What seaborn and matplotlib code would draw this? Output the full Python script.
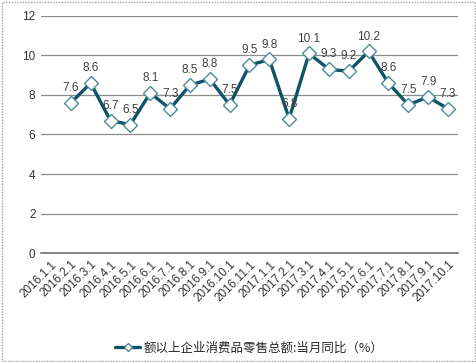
import numpy as np
import pandas as pd
import matplotlib
matplotlib.use("Agg")
import matplotlib.pyplot as plt
import seaborn as sns
from matplotlib.patches import Rectangle

months = ["2016.1.1", "2016.2.1", "2016.3.1", "2016.4.1", "2016.5.1", "2016.6.1",
          "2016.7.1", "2016.8.1", "2016.9.1", "2016.10.1", "2016.11.1", "2017.1.1",
          "2017.2.1", "2017.3.1", "2017.4.1", "2017.5.1", "2017.6.1", "2017.7.1",
          "2017.8.1", "2017.9.1", "2017.10.1"]
growth = [np.nan, 7.6, 8.6, 6.7, 6.5, 8.1, 7.3, 8.5, 8.8, 7.5, 9.5, 9.8,
          6.8, 10.1, 9.3, 9.2, 10.2, 8.6, 7.5, 7.9, 7.3]
series_name = "额以上企业消费品零售总额:当月同比（%）"

sns.set_theme(style="white")
plt.rcParams["font.family"] = ["Noto Sans CJK SC", "DejaVu Sans"]

df = pd.DataFrame({"pos": range(len(months)), "value": growth})

fig = plt.figure(figsize=(4.77, 3.62), dpi=100)
ax = fig.add_axes([0.086, 0.301, 0.874, 0.655])

line_color = "#0E5366"
sns.lineplot(data=df, x="pos", y="value", ax=ax, color=line_color, linewidth=2.4,
             marker="D", markersize=7, markerfacecolor="white",
             markeredgecolor="#4C8C9C", markeredgewidth=1.0, label=series_name)

for p, v in zip(df["pos"], df["value"]):
    if np.isnan(v):
        continue
    ax.text(p, v + 0.45, f"{v:g}", ha="center", va="bottom", fontsize=8.5,
            color="#404040", family=["Liberation Sans", "DejaVu Sans"])

ax.set_ylim(0, 12)
ax.set_yticks(range(0, 13, 2))
ax.set_xlim(-0.5, len(months) - 0.5)
ax.set_xticks(range(len(months)))
ax.set_xticklabels(months, rotation=45, ha="right", rotation_mode="anchor",
                   fontsize=8.5, family=["Liberation Sans", "DejaVu Sans"])
for t in ax.get_yticklabels():
    t.set_fontsize(8.5)
    t.set_family(["Liberation Sans", "DejaVu Sans"])
ax.tick_params(axis="both", length=0, pad=4, colors="#333333")
ax.set_xlabel("")
ax.set_ylabel("")
ax.yaxis.grid(True, color="#8C8C8C", linewidth=0.9)
ax.set_axisbelow(True)
for s in ["top", "right", "left"]:
    ax.spines[s].set_visible(False)
ax.spines["bottom"].set_color("#707070")
ax.spines["bottom"].set_linewidth(1.2)

ax.legend(loc="center", bbox_to_anchor=(0.5, -0.4), frameon=False, fontsize=9,
          handlelength=2.0, handletextpad=0.3, markerscale=0.65)

fig.patches.append(Rectangle((0.004, 0.004), 0.992, 0.99, transform=fig.transFigure,
                             fill=False, edgecolor="#A0A0A0", linewidth=1.0, linestyle=(0, (1, 1))))

fig.savefig("out.png", dpi=100)
